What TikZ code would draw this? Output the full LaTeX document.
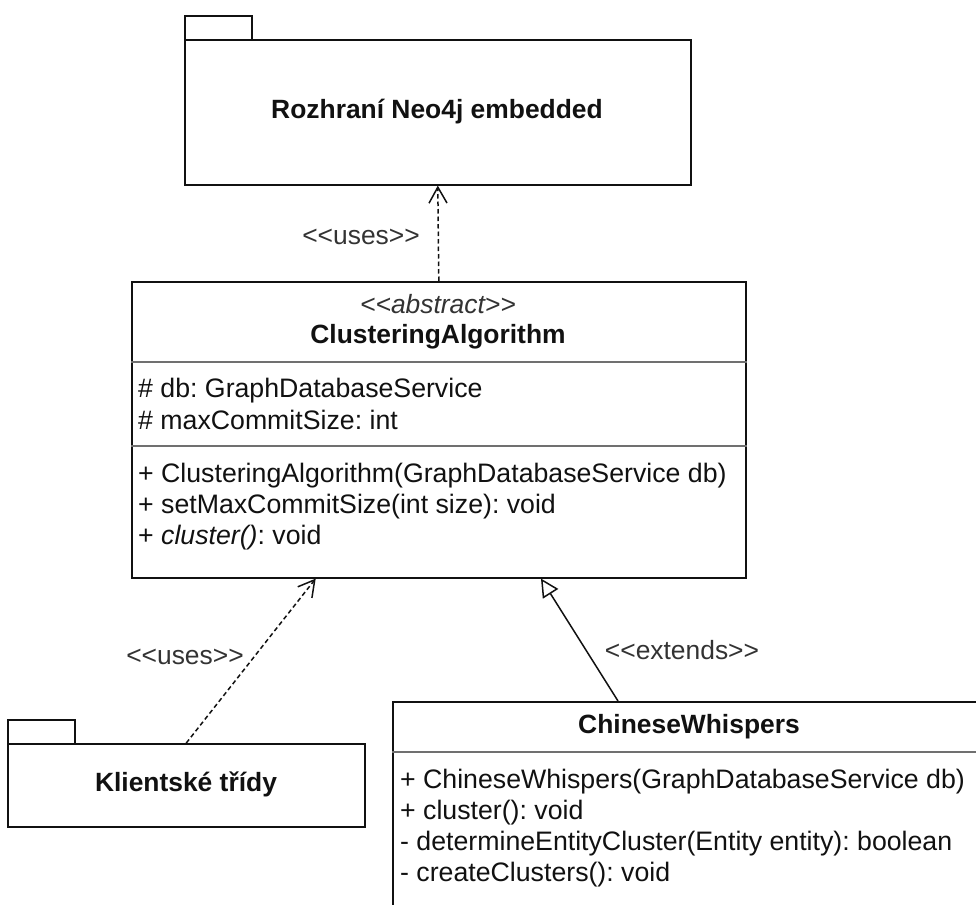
\documentclass[tikz,border=0pt]{standalone}
\usepackage{fontspec}
\setmainfont{Liberation Sans}
\usetikzlibrary{arrows.meta,calc}
\definecolor{ink}{HTML}{111111}
\definecolor{lbl}{HTML}{333333}
\definecolor{sep}{HTML}{707070}
\frenchspacing

\begin{document}
\begin{tikzpicture}[x=1pt,y=-1pt,
  txt/.style={font=\fontsize{26.7}{32}\selectfont, text=ink, inner sep=0pt},
  title/.style={font=\fontsize{26.4}{32}\selectfont\bfseries, text=ink, inner sep=0pt, anchor=base},
  stereo/.style={font=\fontsize{26.4}{32}\selectfont\itshape, text=lbl, inner sep=0pt, anchor=base},
  member/.style={txt, anchor=base west},
  frame/.style={draw=ink, line width=1.6pt, fill=white, inner sep=0pt, anchor=north west},
  divider/.style={draw=sep, line width=1.6pt},
  rel/.style={font=\fontsize{26.4}{32}\selectfont, text=lbl, inner sep=0pt, anchor=base},
  useslink/.style={draw=ink, line width=1.5pt, dash pattern=on 4.5pt off 3pt,
    -{Straight Barb[length=16pt, width=18pt, line width=1.5pt]}},
  extlink/.style={draw=ink, line width=1.5pt,
    -{Triangle[open, length=18pt, width=18pt, fill=white, line width=1.5pt]}}
]
\useasboundingbox (0,0) rectangle (976,904);
\clip (0,0) rectangle (976,904);

% package: Neo4j embedded interface
\node[frame, minimum width=67pt, minimum height=24pt] (neoTab) at (184,15) {};
\node[frame, minimum width=506pt, minimum height=145pt] (neo) at (184,39) {};
\node[title] (neoName) at (437,119) {Rozhraní Neo4j embedded};

% package: client classes
\node[frame, minimum width=67pt, minimum height=24pt] (cliTab) at (7,719) {};
\node[frame, minimum width=357pt, minimum height=83pt] (cli) at (7,743) {};
\node[title] (cliName) at (186,791) {Klientské třídy};

% abstract class ClusteringAlgorithm
\node[frame, minimum width=614pt, minimum height=296pt] (ca) at (131,281) {};
\node[stereo] (caStereo) at (438,313) {<{}<abstract>{}>};
\node[title] (caName) at (438,343) {ClusteringAlgorithm};
\draw[divider] ($(ca.north west)+(0,81)$) -- ($(ca.north east)+(0,81)$);
\draw[divider] ($(ca.north west)+(0,165)$) -- ($(ca.north east)+(0,165)$);
\node[member] (caA1) at (138,397) {\# db: GraphDatabaseService};
\node[member] (caA2) at (138,429) {\# maxCommitSize: int};
\node[member] (caM1) at (138,482) {+ ClusteringAlgorithm(GraphDatabaseService db)};
\node[member] (caM2) at (138,513) {+ setMaxCommitSize(int size): void};
\node[member] (caM3) at (138,544) {+ \textit{cluster()}: void};

% class ChineseWhispers
\node[frame, minimum width=594pt, minimum height=260pt] (cw) at (392,701) {};
\node[title] (cwName) at (689,733) {ChineseWhispers};
\draw[divider] ($(cw.north west)+(0,51)$) -- ($(cw.north east)+(0,51)$);
\node[member] (cwM1) at (400,788) {+ ChineseWhispers(GraphDatabaseService db)};
\node[member] (cwM2) at (400,819) {+ cluster(): void};
\node[member] (cwM3) at (400,850) {- determineEntityCluster(Entity entity): boolean};
\node[member] (cwM4) at (400,881) {- createClusters(): void};

% relations
\draw[useslink] (ca.north) -- (neo.south);
\node[rel] (usesTop) at (361,244) {<{}<uses>{}>};

\draw[useslink] (cli.north) -- ($(ca.south west)!0.30!(ca.south east)$);
\node[rel] (usesLow) at (185,664) {<{}<uses>{}>};

\draw[extlink] ($(cw.north west)+(226,0)$) -- ($(ca.south west)!0.666!(ca.south east)$);
\node[rel] (extLabel) at (682,659) {<{}<extends>{}>};
\end{tikzpicture}
\end{document}
